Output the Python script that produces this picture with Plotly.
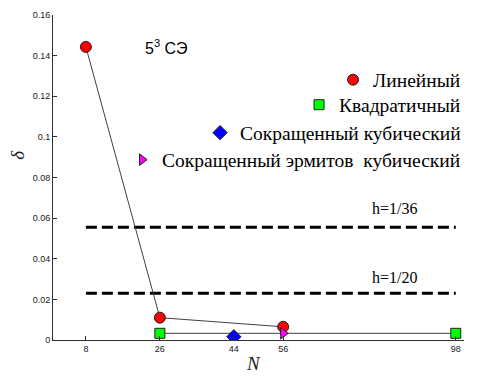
import plotly.graph_objects as go

# Data
lin_N = [8, 26, 56]
lin_d = [0.1443, 0.011, 0.0065]
quad_N = [26, 98]
quad_d = [0.0033, 0.0033]
cub_N = [44]
cub_d = [0.0016]
herm_N = [56]
herm_d = [0.0033]
h_labels = ["h=1/36", "h=1/20"]
h_vals = [0.0555, 0.023]
h_N = [8, 98]
x_ticks = [8, 26, 44, 56, 98]
y_ticks = [0, 0.02, 0.04, 0.06, 0.08, 0.1, 0.12, 0.14, 0.16]
y_ticktext = ["0", "0.02", "0.04", "0.06", "0.08", "0.1", "0.12", "0.14", "0.16"]
names = ["Линейный", "Квадратичный", "Сокращенный кубический", "Сокращенный эрмитов  кубический"]

serif = "Liberation Serif"
sans = "Liberation Sans"
line_col = "#404040"

fig = go.Figure()

# dashed h lines
for hv in h_vals:
    fig.add_trace(go.Scatter(x=h_N, y=[hv, hv], mode="lines",
                             line=dict(color="black", width=3, dash="11px,5px"),
                             showlegend=False, hoverinfo="skip"))

# connecting lines
fig.add_trace(go.Scatter(x=quad_N, y=quad_d, mode="lines",
                         line=dict(color=line_col, width=1), showlegend=False))
fig.add_trace(go.Scatter(x=lin_N, y=lin_d, mode="lines",
                         line=dict(color=line_col, width=1), showlegend=False))

series = [
    (lin_N, lin_d, "circle", "#ff0000", 11, "legend", 0.80),
    (quad_N, quad_d, "square", "#00ff00", 10, "legend2", 0.723),
    (cub_N, cub_d, "diamond", "#0000ff", 11, "legend3", 0.637),
    (herm_N, herm_d, "triangle-right", "#ff00ff", 10, "legend4", 0.554),
]
legend_layout = {}
for (xs, ys, sym, col, sz, lg, ly), nm in zip(series, names):
    fig.add_trace(go.Scatter(x=xs, y=ys, mode="markers", name=nm,
                             marker=dict(symbol=sym, color=col, size=sz,
                                         line=dict(color="#202020", width=1)),
                             legend=lg))
    legend_layout[lg] = dict(x=1.005, xanchor="right", y=ly, yanchor="middle",
                             bgcolor="rgba(0,0,0,0)",
                             font=dict(family=serif, size=19.5, color="black"),
                             itemwidth=30, tracegroupgap=0)

annotations = [
    dict(x=83, y=0.0645, xref="x", yref="y", text=h_labels[0], showarrow=False,
         font=dict(family=serif, size=16, color="black")),
    dict(x=83, y=0.031, xref="x", yref="y", text=h_labels[1], showarrow=False,
         font=dict(family=serif, size=16, color="black")),
    dict(x=27.5, y=0.1443, xref="x", yref="y", text="5<sup>3</sup> СЭ", showarrow=False,
         font=dict(family=sans, size=16, color="black")),
    dict(x=0.487, y=-0.071, xref="paper", yref="paper", yanchor="middle", text="<i>N</i>",
         showarrow=False, font=dict(family=serif, size=19, color="#202020")),
    dict(x=-0.085, y=0.57, xref="paper", yref="paper", xanchor="center", yanchor="middle",
         text="<i>δ</i>", textangle=-90, showarrow=False,
         font=dict(family=serif, size=19, color="#202020")),
]

fig.update_layout(
    width=488, height=379,
    margin=dict(l=45, r=32, t=7, b=47),
    plot_bgcolor="white", paper_bgcolor="white",
    font=dict(family=serif, color="black"),
    annotations=annotations,
    **legend_layout,
)
fig.update_xaxes(range=[0, 100], tickvals=x_ticks, ticks="inside", ticklen=4,
                 tickcolor="#303030", showline=True, linecolor="#303030", linewidth=1,
                 showgrid=False, zeroline=False, mirror=False, automargin=False,
                 tickfont=dict(family=sans, size=9, color="#202020"))
fig.update_yaxes(range=[0, 0.16], tickvals=y_ticks, ticktext=y_ticktext, ticks="inside",
                 ticklen=4, tickcolor="#303030", showline=True, linecolor="#303030",
                 linewidth=1, showgrid=False, zeroline=False, automargin=False,
                 tickfont=dict(family=sans, size=9, color="#202020"))

fig.write_html("out.html")
